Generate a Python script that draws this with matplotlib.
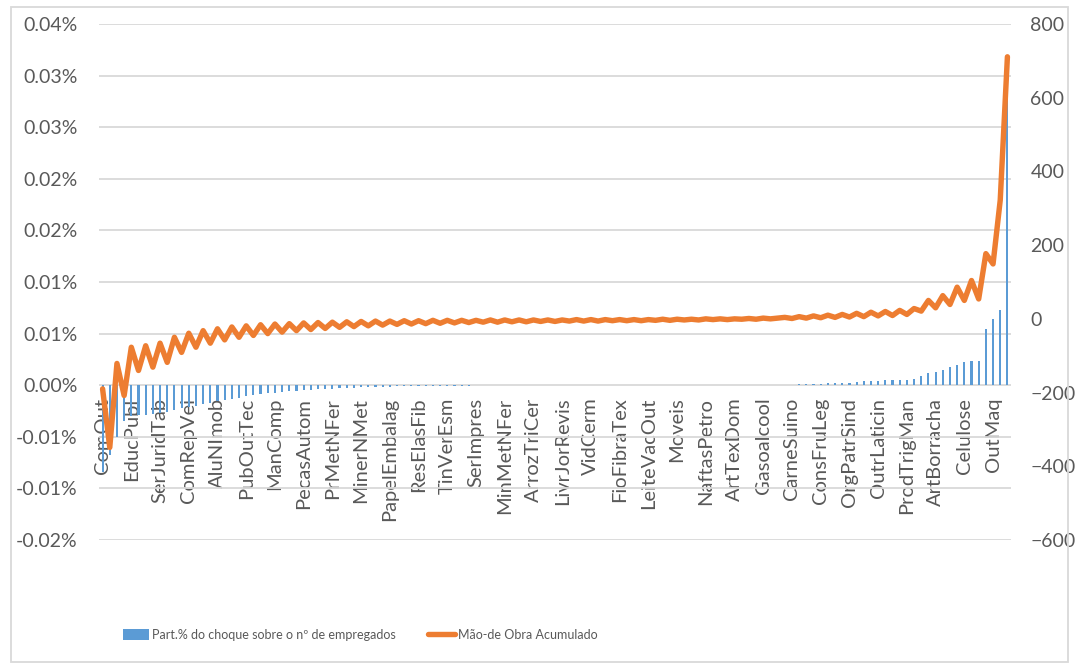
import matplotlib
matplotlib.use('Agg')
from matplotlib import pyplot as plt
from matplotlib.patches import Rectangle
from matplotlib.lines import Line2D
from matplotlib.patches import Patch
import numpy as np

plt.rcParams['font.family'] = ['Lato', 'DejaVu Sans']

# rótulos visíveis (um a cada 4 setores)
tick_labels = ['ComOut', 'EducPubl', 'SerJuridTab', 'ComRepVei', 'AluNImob', 'PubOutTec',
               'ManComp', 'PecasAutom', 'PrMetNFer', 'MinerNMet', 'PapelEmbalag', 'ResElasFib',
               'TinVerEsm', 'SerImpres', 'MinMetNFer', 'ArrozTriCer', 'LivrJorRevis', 'VidCerm',
               'FioFibraTex', 'LeiteVacOut', 'Moveis', 'NaftasPetro', 'ArtTexDom', 'Gasoalcool',
               'CarneSuino', 'ConsFruLeg', 'OrgPatrSind', 'OutrLaticin', 'ProdTrigMan', 'ArtBorracha',
               'Celulose', 'OutMaq']

# Part.% do choque sobre o nº de empregados (em %)
part_choque = [
    -0.0084, -0.0068, -0.0050,
    -0.00349, -0.0030, -0.00284, -0.0029, -0.00277, -0.00268, -0.00261, -0.00242, -0.00219,
    -0.0021, -0.00197, -0.00184, -0.00171, -0.00155, -0.00145, -0.00132, -0.00122, -0.00106,
    -0.00097, -0.00084, -0.00074,
    -0.00071, -0.00065, -0.00058, -0.00055, -0.00048, -0.00042, -0.00039, -0.00036, -0.00032,
    -0.00029, -0.00026, -0.00023, -0.00019, -0.00016, -0.00016, -0.00013, -0.00013, -0.0001,
    -0.0001, -0.0001, -0.00006, -0.00006,
    -0.00005, -0.00005, -0.00004, -0.00004, -0.00003, -0.00003, -0.00002, -0.00002,
    -0.00001, -0.00001, -0.00001, -0.00001, -0.00001, -0.00001, -0.00001,
    0, 0, 0, 0, 0, 0, 0, 0, 0, 0, 0, 0, 0, 0, 0, 0, 0, 0, 0, 0, 0, 0, 0, 0, 0, 0, 0, 0, 0, 0,
    0.00001, 0.00001, 0.00001, 0.00001,
    0.00003, 0.00003, 0.00007, 0.0001, 0.0001, 0.00016, 0.00019, 0.00019, 0.00026, 0.00026,
    0.00029, 0.00039, 0.00039, 0.00039, 0.00048, 0.00048, 0.00048, 0.00051, 0.00058, 0.0009,
    0.00123, 0.00126, 0.00145, 0.00177, 0.00197, 0.0022, 0.00235, 0.00235, 0.00546, 0.00642,
    0.00733, 0.0295,
]

# Mão-de Obra Acumulado
mao_obra = [
    -190, -349, -121, -208, -77, -140, -73, -131, -66, -118,
    -50, -91, -39, -77, -32, -66, -27, -57, -22, -50,
    -19, -45, -16, -40, -14, -36, -13, -32, -11, -29,
    -10, -26, -9, -23, -8, -21, -7, -19, -6, -17,
    -6, -15, -5, -14, -5, -13, -4, -12, -4, -11,
    -4, -10, -4, -9, -3, -9, -3, -8, -3, -8,
    -3, -7, -3, -7, -3, -6, -2, -6, -2, -6,
    -2, -5, -2, -5, -2, -5, -2, -4, -1, -4,
    -1, -3, -1, -3, 0, -2, 0, -2, 0, -1,
    1, -1, 2, 0, 2, 4, 1, 6, 2, 8,
    3, 10, 4, 12, 5, 15, 6, 18, 8, 20,
    9, 23, 12, 28, 21, 50, 30, 63, 39, 86,
    50, 104, 54, 177, 149, 322, 711,
]

left_ticks = [-0.015, -0.01, -0.005, 0, 0.005, 0.01, 0.015, 0.02, 0.025, 0.03, 0.035]
left_tick_text = ['-0.02%', '-0.01%', '-0.01%', '0.00%', '0.01%', '0.01%', '0.02%', '0.02%',
                  '0.03%', '0.03%', '0.04%']
right_ticks = [-600, -400, -200, 0, 200, 400, 600, 800]

blue = '#5B9BD5'
orange = '#ED7D31'
gray_txt = '#595959'
grid_c = '#D9D9D9'

x = np.arange(len(part_choque))

fig = plt.figure(figsize=(10.78, 6.66), dpi=100)
ax = fig.add_axes([99 / 1078, 126 / 666, 912 / 1078, 516 / 666])
ax2 = ax.twinx()

ax.bar(x, part_choque, width=0.3, color=blue, zorder=2)
ax2.plot(x, mao_obra, color=orange, lw=3.9, solid_joinstyle='round', solid_capstyle='round')

ax.set_xlim(-0.5, len(x) - 0.5)
ax.set_ylim(-0.015, 0.035)
ax2.set_ylim(-600, 800)

# eixo das categorias cruzando no zero
ax.spines['bottom'].set_position(('data', 0))

ax.set_yticks(left_ticks)
ax.set_yticklabels(left_tick_text)
ax2.set_yticks(right_ticks)
ax.yaxis.grid(True, color=grid_c, lw=1.3)
ax.set_axisbelow(True)

ax.set_xticks(x[::4])
ax.set_xticklabels(tick_labels)

for a in (ax, ax2):
    for s in a.spines.values():
        s.set_visible(False)
    a.tick_params(length=0, colors=gray_txt, labelsize=14)
ax.tick_params(axis='y', pad=15.5)
ax.tick_params(axis='x', pad=9, labelsize=14.5, labelrotation=90)
ax2.tick_params(axis='y', pad=14)

# moldura do gráfico
fig.patches.append(Rectangle((11 / 1078, 4 / 666), 1057 / 1078, 655 / 666, transform=fig.transFigure,
                             fill=False, edgecolor=grid_c, lw=1.3))

handles = [Patch(facecolor=blue, edgecolor='none'),
           Line2D([0], [0], color=orange, lw=3.9, solid_capstyle='round')]
fig.legend(handles, ['Part.% do choque sobre o nº de empregados', 'Mão-de Obra Acumulado'],
           loc='center', bbox_to_anchor=(360 / 1078, 1 - 635 / 666), ncol=2, frameon=False,
           fontsize=9, labelcolor=gray_txt, handlelength=2.1, handleheight=0.95,
           handletextpad=0.25, columnspacing=2.6)

fig.savefig('out.png', dpi=100)
plt.close()
